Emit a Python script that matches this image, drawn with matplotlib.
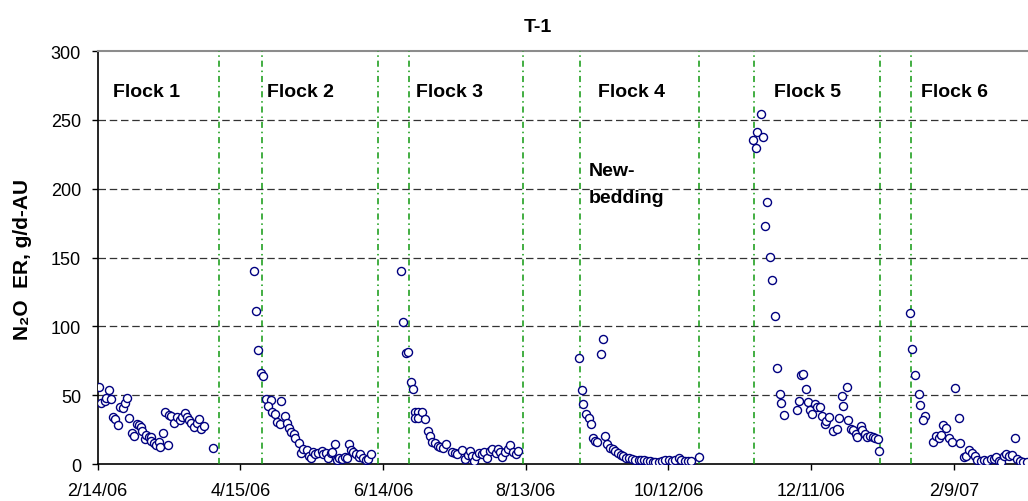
"""T-1 house: N2O emission rate per flock, scatter over one year of sampling."""

import pandas as pd
import matplotlib.pyplot as plt
import matplotlib.dates as mdates

START = pd.Timestamp("2006-02-14")

# ── Data: day offset from START, emission rate (g/d-AU) ─────────────

flock1_day = [0.7, 1.5, 2.9, 3.5, 4.9, 5.5, 6.6, 7.4, 8.5, 9.4, 10.5, 11.4, 12.5,
              13.3, 14.4, 15.3, 16.4, 17.5, 18.3, 18.6, 19.8, 20.3, 21.4, 22.5,
              22.3, 23.7, 24.5, 25.7, 26.2, 27.6, 28.2, 29.6, 29.9, 31.0, 32.1,
              33.2, 34.6, 35.5, 36.8, 37.7, 38.5, 39.4, 40.5, 41.6, 42.7, 43.3,
              44.7, 48.6]
flock1_er = [55.7, 44.5, 45.5, 48, 53.7, 47, 34.4, 32.9, 28.5, 41.2, 40.7, 44, 48,
             33.4, 22.3, 20.3, 29, 28.1, 27.1, 24.2, 17.9, 21.3, 19.4, 19.8, 16.9,
             15.5, 13.6, 16, 12.1, 22.7, 37.8, 14, 35.4, 34.9, 29.6, 33.9, 32,
             33.9, 36.8, 33.9, 32, 30, 26.6, 29.6, 32.5, 25.2, 27.6, 11.6]

flock2_day = [65.7, 66.4, 67.5, 68.7, 69.6, 70.8, 72.7, 71.6, 77.2, 73.3, 74.7,
              75.3, 76.7, 78.6, 79.5, 80.6, 81.2, 82.5, 83.1, 84.5, 85.6, 86.5,
              87.9, 88.7, 89.6, 90.4, 91.5, 92.6, 94.3, 94.9, 96.0, 96.8, 98.0,
              98.5, 99.7, 100.5, 101.6, 102.7, 104.1, 105.0, 105.5, 106.6, 107.5,
              108.6, 109.8, 110.3, 111.7, 112.8, 113.7, 114.8]
flock2_er = [140.2, 110.9, 82.6, 66.1, 63.7, 47.2, 46.7, 42.4, 45.8, 38, 36.1,
             30.7, 28.8, 35.1, 29.8, 26.4, 23, 21.6, 18.7, 15.3, 8, 10.9, 10.4, 6,
             4.1, 8.5, 7.5, 8, 9.4, 7.5, 8, 4.6, 8, 8.5, 14.3, 3.1, 4.1, 3.6, 5.1,
             4.1, 14.3, 10.4, 8.5, 7, 5.1, 7, 4.6, 2.7, 3.6, 7.5]

flock3_day = [127.7, 128.5, 129.6, 130.5, 131.6, 132.5, 133.4, 134.6, 133.4,
              134.8, 136.2, 137.6, 138.8, 139.6, 140.5, 141.8, 143.0, 143.8,
              145.2, 146.6, 148.9, 150.3, 151.1, 153.3, 154.5, 155.6, 156.4,
              157.5, 158.1, 159.2, 160.3, 161.5, 162.6, 163.7, 164.8, 165.9,
              167.4, 168.5, 169.3, 170.1, 171.3, 172.4, 173.5, 174.6, 175.8, 176.9]
flock3_er = [140.2, 102.9, 80.6, 81.6, 59.3, 54.5, 37.5, 37.5, 33.6, 33.6, 37.5,
             32.7, 24, 20.1, 16.2, 15.3, 13.3, 12.3, 11.8, 14.3, 8.5, 8, 7.5, 10.4,
             3.6, 6.5, 9.4, 5.6, 2.2, 6, 8, 7, 8.5, 4.1, 9.4, 10.9, 8, 10.9, 8.9,
             5.1, 8.9, 10.9, 13.8, 8.5, 7, 9.4]

flock4_day = [202.5, 211.5, 212.6, 203.7, 204.2, 205.3, 206.7, 207.6, 208.4,
              209.3, 210.1, 213.2, 214.3, 215.4, 216.6, 217.7, 218.8, 219.9,
              221.0, 222.2, 223.3, 224.7, 226.1, 227.5, 228.6, 229.7, 230.9,
              232.3, 233.4, 234.5, 235.9, 237.3, 238.7, 240.1, 241.5, 242.9,
              244.3, 245.4, 246.8, 248.2, 249.6, 252.7]
flock4_er = [77.2, 79.7, 90.5, 53.5, 43.3, 36.5, 33.2, 28.8, 18.7, 16.7, 15.8,
             20.6, 14.3, 11.8, 10.9, 9.4, 8, 6.5, 5.6, 4.6, 4.1, 3.6, 3.1, 2.7, 2.7,
             2.7, 2.2, 2.2, 1.7, 1.7, 1.7, 2.2, 2.7, 2.7, 2.2, 2.7, 4.1, 2.7, 2.2,
             2.2, 2.2, 5.1]

flock5_day = [278.8, 277.4, 279.6, 275.4, 276.8, 281.6, 280.7, 282.7, 283.5,
              284.7, 285.5, 286.9, 287.5, 288.6, 293.9, 294.8, 295.9, 296.7,
              297.9, 298.7, 299.5, 300.4, 301.8, 302.6, 303.7, 304.6, 305.7,
              306.2, 307.7, 309.3, 310.8, 311.6, 313.0, 313.5, 315.0, 315.5,
              316.9, 317.8, 318.9, 319.4, 320.9, 321.4, 322.5, 323.4, 324.8,
              325.9, 327.0, 328.1, 328.7]
flock5_er = [254.4, 240.9, 237.5, 235.1, 229.3, 190, 173.1, 150.3, 133.4, 107.7,
             69.5, 51.1, 44.3, 35.6, 39, 45.8, 64.6, 65.6, 54.5, 45.2, 39, 36.1,
             43.8, 41.4, 41.4, 34.6, 28.8, 31.2, 34.1, 24, 25.4, 33.2, 49.2, 42.3,
             55.9, 32.2, 25.4, 24.5, 22, 19.6, 27.4, 24.5, 22, 19.6, 20.1, 19.6,
             19.1, 18.2, 9.4]

flock6_day = [341.6, 342.4, 343.6, 345.2, 345.8, 347.8, 346.9, 360.6, 362.1,
              351.4, 352.5, 353.6, 354.8, 355.3, 356.7, 358.1, 359.2, 362.6,
              364.2, 365.1, 366.5, 367.7, 369.0, 369.9, 371.3, 372.7, 374.1,
              375.5, 376.9, 377.8, 379.1, 380.0, 381.1, 381.9, 383.1, 384.5,
              385.6, 386.5, 387.9, 389.3, 390.7]
flock6_er = [109.7, 83.5, 64.6, 51.1, 42.8, 35.1, 31.7, 55.4, 33.2, 16.2, 20.6,
             19.1, 21.1, 28.3, 26.4, 18.7, 16.2, 15.3, 5.1, 6, 10.4, 8, 6, 2.7,
             2.2, 2.7, 2.2, 3.6, 3.6, 5.1, 2.2, 1.2, 6, 7, 6, 6.5, 18.7, 3.6, 2.2,
             1.2, 1.2]

# flock boundaries (placement / removal dates)
boundary_dates = ["2006-04-06", "2006-04-24", "2006-06-12", "2006-06-25",
                  "2006-08-12", "2006-09-05", "2006-10-25", "2006-11-17",
                  "2007-01-09", "2007-01-22"]

flock_labels = ["Flock 1", "Flock 2", "Flock 3", "Flock 4", "Flock 5", "Flock 6"]
flock_label_day = [6.6, 71.1, 133.9, 210.5, 284.4, 346.3]

tick_dates = ["2006-02-14", "2006-04-15", "2006-06-14", "2006-08-13",
              "2006-10-12", "2006-12-11", "2007-02-09"]
tick_labels = ["2/14/06", "4/15/06", "6/14/06", "8/13/06", "10/12/06",
               "12/11/06", "2/9/07"]

y_ticks = [0, 50, 100, 150, 200, 250, 300]

# ── Plot ─────────────────────────────────────────────────────────────

plt.rcParams["font.family"] = ["Liberation Sans", "DejaVu Sans"]

fig = plt.figure(figsize=(10.28, 5.02), dpi=100)
ax = fig.add_axes([0.095, 0.0737, 0.905, 0.8227])


def to_dates(days):
    return START + pd.to_timedelta(days, unit="D")


flocks = [(flock1_day, flock1_er), (flock2_day, flock2_er),
          (flock3_day, flock3_er), (flock4_day, flock4_er),
          (flock5_day, flock5_er), (flock6_day, flock6_er)]
for days, er in flocks:
    ax.plot(to_dates(days), er, linestyle="none", marker="o",
            markersize=5.8, markerfacecolor="white", markeredgecolor="#000080",
            markeredgewidth=1.0, zorder=4, clip_on=True)

for d in boundary_dates:
    ax.axvline(pd.Timestamp(d), color="#0f990f", linewidth=1.1,
               linestyle=(0, (4, 2.5, 1, 2.5)), zorder=3)

for y in y_ticks[1:-1]:
    ax.axhline(y, color="#333333", linewidth=0.9, linestyle=(0, (6, 3)),
               zorder=1)

for lbl, d in zip(flock_labels, flock_label_day):
    ax.text(to_dates([d])[0], 270.4, lbl, fontsize=14, fontweight="bold",
            ha="left", va="center")
ax.text(to_dates([206.3])[0], 213, "New-", fontsize=14, fontweight="bold",
        ha="left", va="center")
ax.text(to_dates([206.3])[0], 193.6, "bedding", fontsize=14,
        fontweight="bold", ha="left", va="center")

ax.set_xlim(START, START + pd.Timedelta(days=391.2))
ax.set_ylim(0, 300)
ax.set_yticks(y_ticks)
ax.set_xticks([pd.Timestamp(d) for d in tick_dates])
ax.set_xticklabels(tick_labels)
ax.xaxis.set_minor_locator(mdates.DayLocator(interval=10000))

ax.tick_params(axis="both", direction="out", length=4, width=1,
               labelsize=13, colors="black")
ax.tick_params(axis="x", pad=9)
ax.tick_params(axis="y", pad=8)

ax.spines["right"].set_visible(False)
ax.spines["top"].set_color("#8c8c8c")
ax.spines["top"].set_linewidth(1.5)
ax.spines["left"].set_linewidth(1.2)
ax.spines["bottom"].set_linewidth(1.2)

fig.text(22.5 / 1028, 1 - 259.5 / 502, "N\u2082O  ER, g/d-AU", rotation=90,
         fontsize=15, fontweight="bold", ha="center", va="center")
fig.text(538 / 1028, 1 - 28 / 502, "T-1", fontsize=14, fontweight="bold",
         ha="center", va="center")

fig.savefig("out.png", dpi=100)
